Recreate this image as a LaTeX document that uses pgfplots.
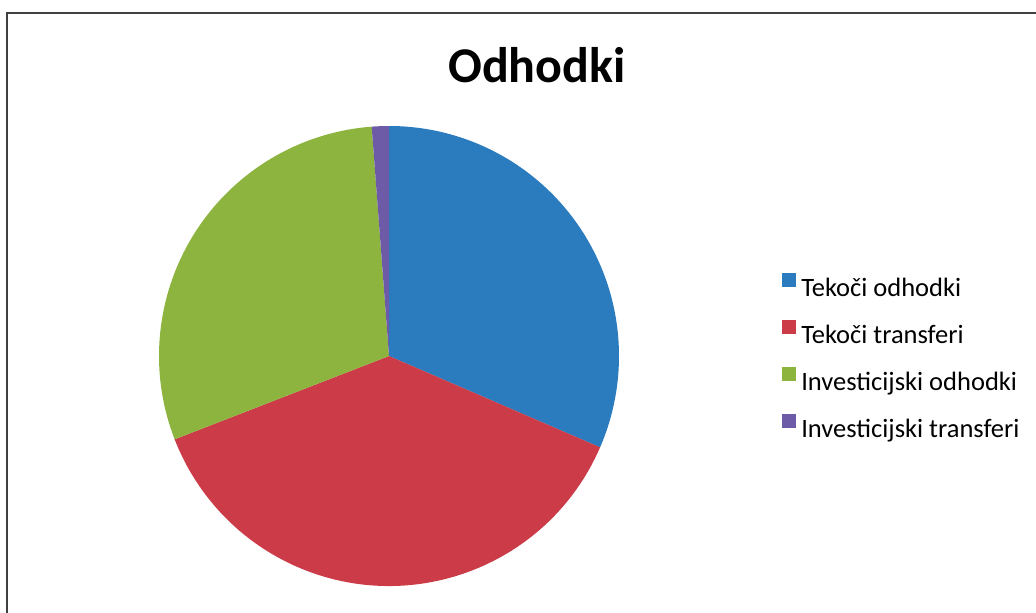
\documentclass[border=0pt]{standalone}
\usepackage{pgfplots}
\usepackage{pgfplotstable}
\pgfplotsset{compat=1.18}
\usepackage{fontspec}
\setmainfont{Carlito}
\definecolor{cblue}{RGB}{43,123,191}
\definecolor{cred}{RGB}{204,59,72}
\definecolor{cgreen}{RGB}{141,180,62}
\definecolor{cpurple}{RGB}{110,91,168}
\pgfplotstableread{
label value
a 31.5
b 37.6
c 29.7
d 1.2
}\piedata
\begin{document}
\begin{tikzpicture}
\begin{axis}[
  width=1036pt, height=613pt, scale only axis,
  xmin=0, xmax=1036, ymin=0, ymax=613,
  hide axis, clip=false,
  legend cell align=left,
  legend style={draw=none, fill=none, font=\fontsize{26.5}{31}\selectfont,
    at={(rel axis cs:0.752,0.558)}, anchor=north west,
    row sep=20pt},
  legend image code/.code={\fill[#1, draw=none] (0pt,1pt) rectangle (14pt,15pt);\path[draw=none,fill=none] (0pt,0pt) -- (17pt,0pt);},
]
\addlegendimage{fill=cblue}\addlegendentry{Tekoči odhodki}
\addlegendimage{fill=cred}\addlegendentry{Tekoči transferi}
\addlegendimage{fill=cgreen}\addlegendentry{Investicijski odhodki}
\addlegendimage{fill=cpurple}\addlegendentry{Investicijski transferi}
\pgfplotsextra{
  \xdef\pstart{90}
  \foreach \i/\col in {0/cblue,1/cred,2/cgreen,3/cpurple}{
    \pgfplotstablegetelem{\i}{value}\of\piedata
    \pgfmathsetmacro\sweep{\pgfplotsretval*3.6}
    \fill[\col] (axis cs:389,257) -- ++(\pstart:230pt)
      arc[start angle=\pstart, delta angle=-\sweep, radius=230pt] -- cycle;
    \pgfmathsetmacro\pnext{\pstart-\sweep}
    \xdef\pstart{\pnext}
  }
  \draw[line width=1.5pt, black!75] (axis cs:7,-30) -- (axis cs:7,600) -- (axis cs:1060,600);
}
\node[font=\fontsize{50}{58}\selectfont\bfseries] at (axis cs:537,548) {Odhodki};
\end{axis}
\pgfresetboundingbox
\useasboundingbox (0,0) rectangle (1036pt,613pt);
\end{tikzpicture}
\end{document}
